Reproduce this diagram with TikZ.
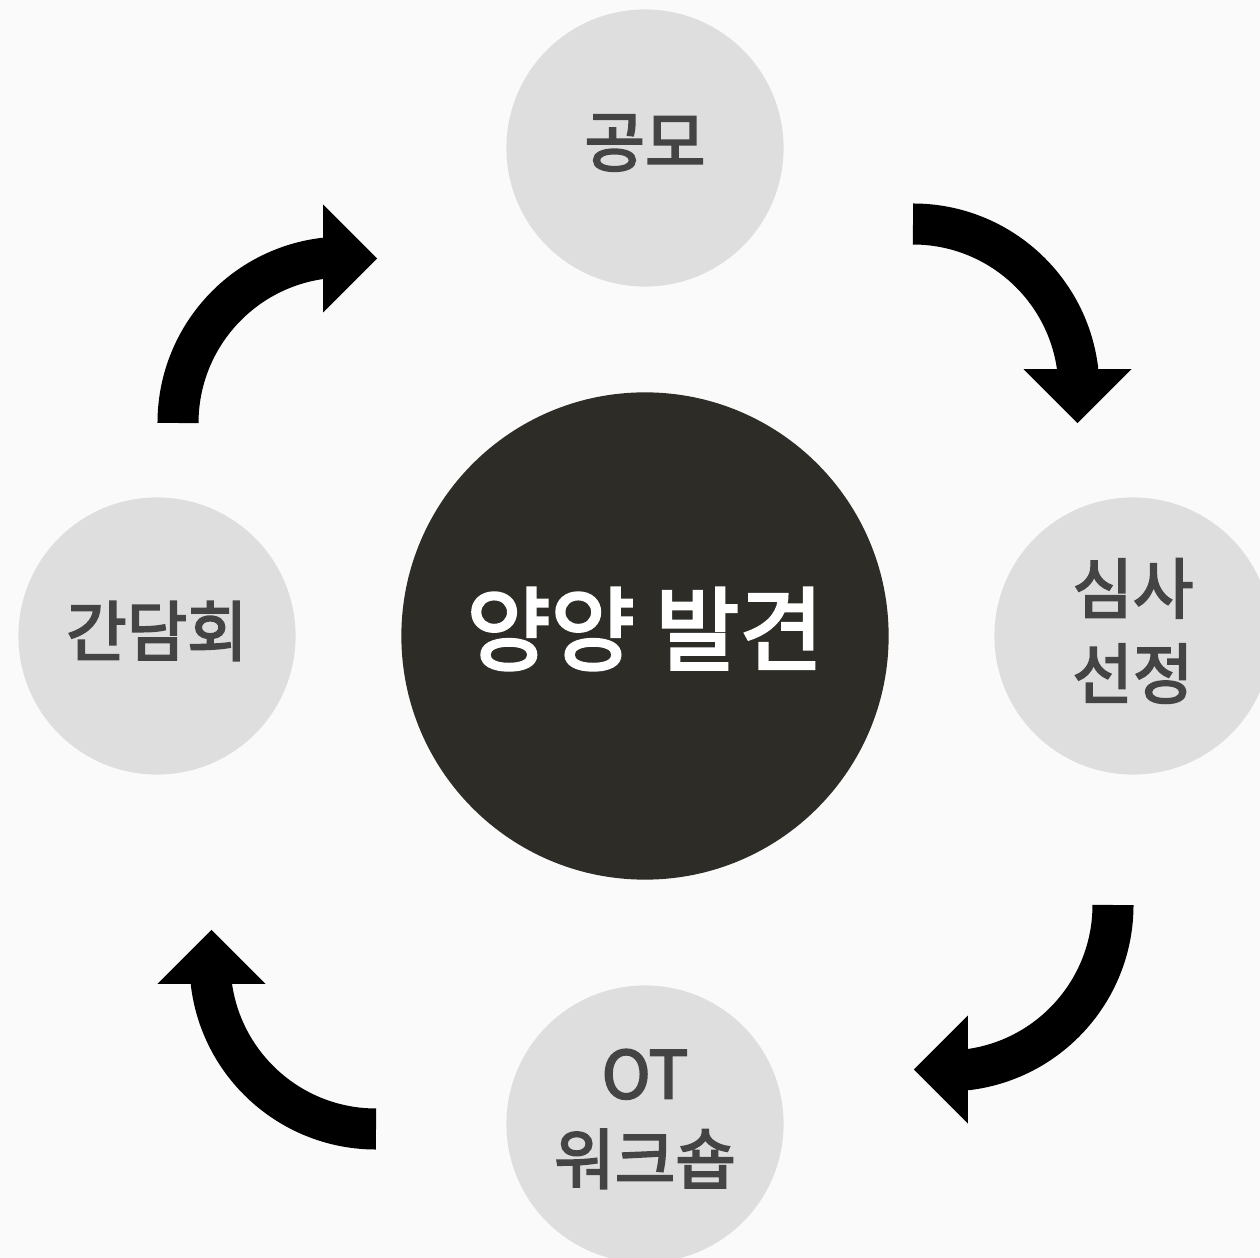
\documentclass[tikz,border=0pt]{standalone}
\usepackage{fontspec}
\newfontfamily\krfont[FakeBold=3]{Noto Sans CJK KR}
\usetikzlibrary{arrows.meta}

\definecolor{pagebg}{HTML}{FAFAFA}
\definecolor{stepgray}{HTML}{DEDEDE}
\definecolor{steptext}{HTML}{444444}
\definecolor{hubdark}{HTML}{2D2C27}

% shift the ink up, keep the box as it is
\newcommand\lifted[2][0.05cm]{\raisebox{#1}[\height][\depth]{#2}}

\tikzset{
  cyclearrow/.style={line width=0.41cm,
    -{Triangle[width=1.08cm,length=0.54cm,line width=0pt]}},
}

\begin{document}
\begin{tikzpicture}[x=0.01cm,y=0.01cm]
\fill[pagebg] (0,0) rectangle (1260,-1258);
\clip (0,0) rectangle (1260,-1258);

\node[circle,fill=hubdark,minimum size=4.87cm,inner sep=0pt,text=white,
      font=\krfont\fontsize{26pt}{30pt}\selectfont] (hub) at (645,-636) {\lifted[0.07cm]{양양 발견}};

\begin{scope}[every node/.style={circle,fill=stepgray,minimum size=2.77cm,inner sep=0pt,
              align=center,text=steptext,font=\krfont\fontsize{18.7pt}{24.2pt}\selectfont}]
    \node (gongmo) at (645,-148) {\lifted{공모}};
    \node (simsa) at (1133,-636) {\lifted{심사}\\\lifted{선정}};
    \node (ot) at (645,-1124) {\lifted{OT}\\\lifted{워크숍}};
    \node (gandam) at (157,-636) {\lifted{간담회}};
\end{scope}

% arrow starts, one per quarter
\coordinate (a1) at (913,-224);
\coordinate (a2) at (1113,-905);
\coordinate (a3) at (376,-1129);
\coordinate (a4) at (178,-423);

\draw[cyclearrow] (a1) arc[start angle=90,end angle=7.6,radius=166] -- ++(0,-55);
\draw[cyclearrow] (a2) arc[start angle=0,end angle=-82.4,radius=166] -- ++(-55,0);
\draw[cyclearrow] (a3) arc[start angle=270,end angle=187.6,radius=166] -- ++(0,55);
\draw[cyclearrow] (a4) arc[start angle=180,end angle=97.6,radius=166] -- ++(55,0);
\end{tikzpicture}
\end{document}
